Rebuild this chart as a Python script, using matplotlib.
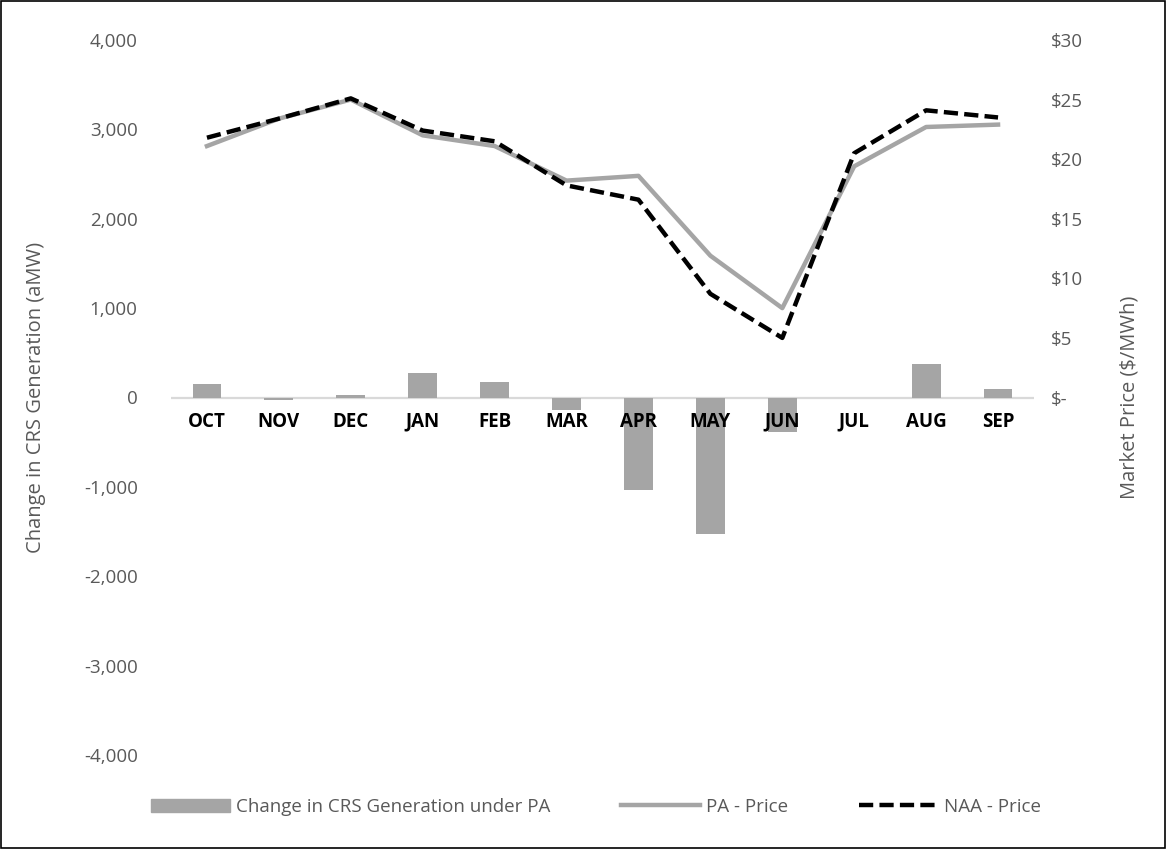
import matplotlib
matplotlib.use("Agg")
import matplotlib.pyplot as plt
from matplotlib.patches import Rectangle
from matplotlib.lines import Line2D

months = ["OCT", "NOV", "DEC", "JAN", "FEB", "MAR", "APR", "MAY", "JUN", "JUL", "AUG", "SEP"]
crs_change = [150, -30, 25, 270, 170, -135, -1040, -1530, -385, 0, 380, 90]
pa_price = [21.1, 23.4, 25.0, 22.0, 21.1, 18.2, 18.6, 11.9, 7.5, 19.4, 22.7, 22.9]
naa_price = [21.8, 23.4, 25.1, 22.4, 21.5, 17.8, 16.6, 8.7, 5.0, 20.5, 24.1, 23.5]
left_ticks = [-4000, -3000, -2000, -1000, 0, 1000, 2000, 3000, 4000]
right_ticks = [0, 5, 10, 15, 20, 25, 30]

FONT = "Open Sans"
GRAY_TXT = "#595959"
BAR_C = "#A5A5A5"
DASH = (0, (3.2, 1.4))

fig = plt.figure(figsize=(11.66, 8.49), dpi=100)
W, H = 1166, 849
ax = fig.add_axes([171 / W, 1 - 755 / H, (1034 - 171) / W, (755 - 40) / H])
ax2 = ax.twinx()

x = list(range(len(months)))
ax.bar(x, crs_change, width=0.4, color=BAR_C, zorder=2)
ax.axhline(0, color="#D9D9D9", lw=1.6, zorder=1)
ax.set_ylim(-4000, 4000)
ax.set_xlim(-0.5, len(months) - 0.5)
ax.set_yticks(left_ticks)
ax.set_yticklabels([f"{v:,}" for v in left_ticks])
ax.set_xticks([])
ax.tick_params(axis="y", length=0, pad=24, labelsize=13.5, labelcolor=GRAY_TXT)
for lab in ax.get_yticklabels():
    lab.set_fontfamily(FONT)

for xi, m in zip(x, months):
    ax.text(xi, -160, m, ha="center", va="top", fontsize=13.5, fontweight="bold",
            family=FONT, color="black", zorder=5)

ax2.plot(x, pa_price, color=BAR_C, lw=3.2, zorder=3)
ax2.plot(x, naa_price, color="black", lw=3.2, ls=DASH, zorder=4)
ax2.set_ylim(-30, 30)
ax2.set_yticks(right_ticks)
ax2.set_yticklabels(["$-" if v == 0 else f"${v}" for v in right_ticks])
ax2.tick_params(axis="y", length=0, pad=12, labelsize=13.5, labelcolor=GRAY_TXT)
for lab in ax2.get_yticklabels():
    lab.set_fontfamily(FONT)

for a in (ax, ax2):
    for s in a.spines.values():
        s.set_visible(False)

fig.text(36 / W, 1 - 397 / H, "Change in CRS Generation (aMW)", rotation=90,
         ha="center", va="center", fontsize=14.5, family=FONT, color=GRAY_TXT)
fig.text(1130 / W, 1 - 397 / H, "Market Price ($/MWh)", rotation=90,
         ha="center", va="center", fontsize=14.5, family=FONT, color=GRAY_TXT)

handles = [Rectangle((0, 0), 1, 1, color=BAR_C),
           Line2D([], [], color=BAR_C, lw=3.2),
           Line2D([], [], color="black", lw=3.2, ls=DASH)]
labels = ["Change in CRS Generation under PA", "PA - Price", "NAA - Price"]
leg = fig.legend(handles, labels, loc="center", bbox_to_anchor=(596 / W, 1 - 807 / H),
                 ncol=3, frameon=False, handlelength=4.2,
                 columnspacing=3.8, handletextpad=0.3,
                 prop={"family": FONT, "size": 13.5})
for t in leg.get_texts():
    t.set_color(GRAY_TXT)

fig.patches.append(Rectangle((0.001, 0.001), 0.998, 0.998, transform=fig.transFigure,
                             fill=False, edgecolor="black", lw=1.2))

fig.savefig("out.png", dpi=100)
